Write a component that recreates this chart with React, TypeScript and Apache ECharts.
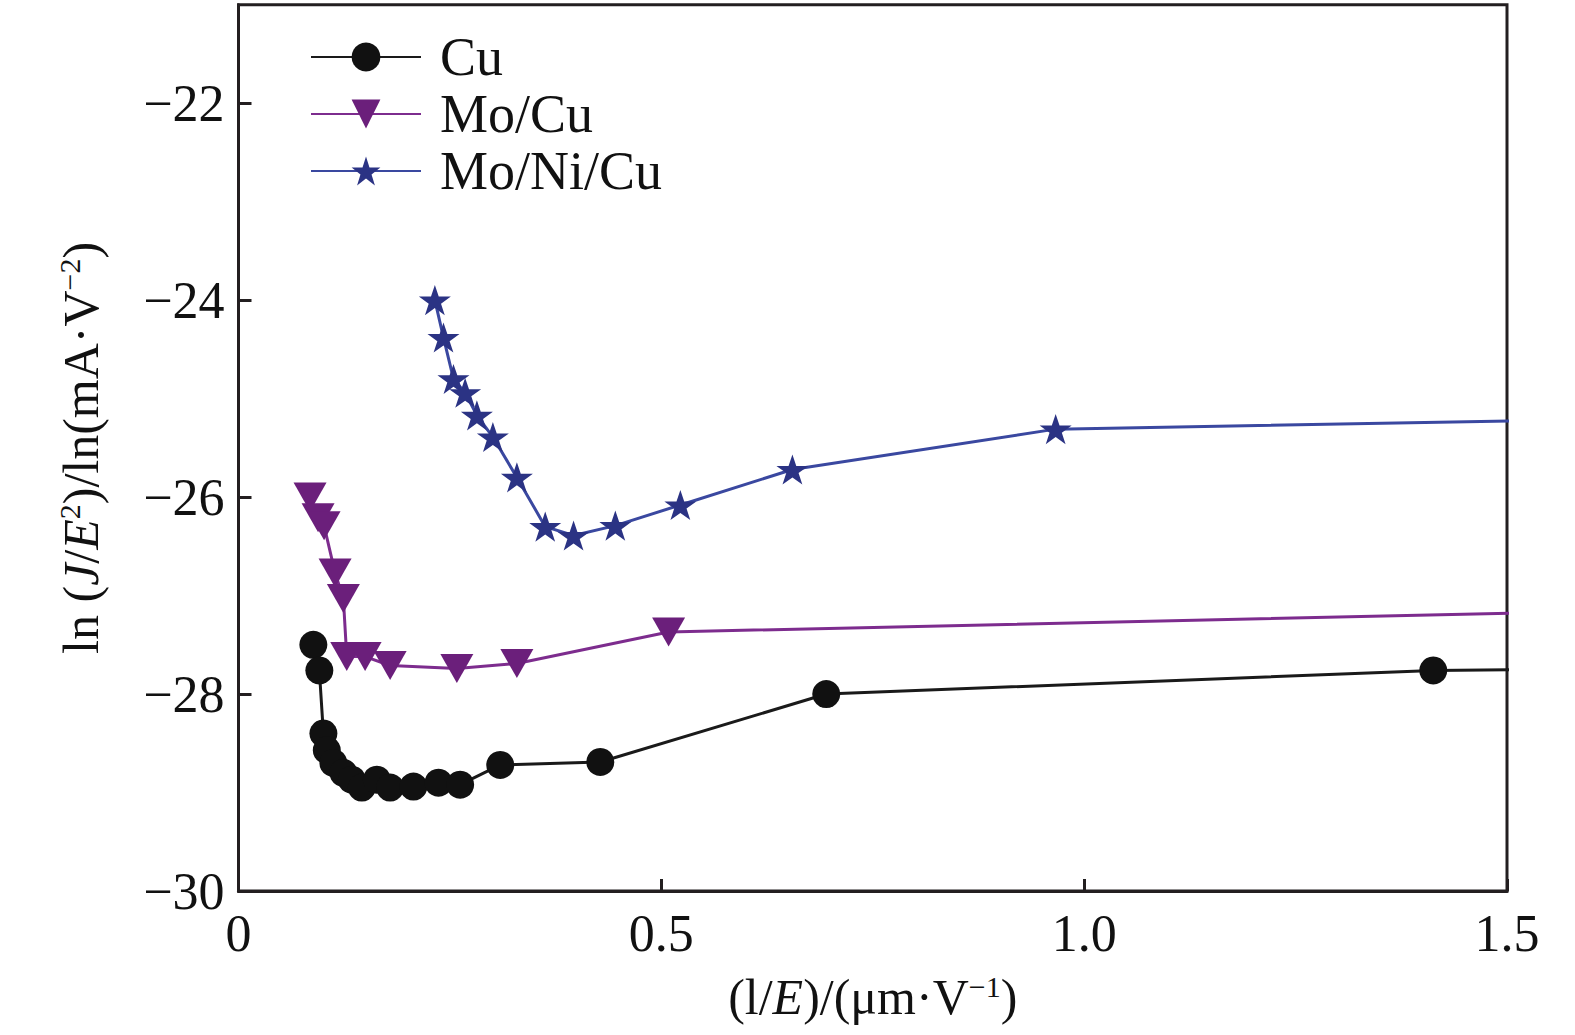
import React, { useEffect, useRef } from "react";
import * as echarts from "echarts";

// ---- data ----
const seriesNames = ["Cu", "Mo/Cu", "Mo/Ni/Cu"];

const cuX = [0.0885, 0.0956, 0.1004, 0.1044, 0.1122, 0.124, 0.134, 0.1458, 0.1636, 0.1793, 0.2069, 0.2365, 0.2621, 0.3095, 0.4278, 0.695, 1.4128, 1.55];
const cuY = [-27.5, -27.76, -28.4, -28.57, -28.7, -28.8, -28.87, -28.95, -28.87, -28.95, -28.94, -28.9, -28.92, -28.72, -28.69, -28.0, -27.76, -27.75];

const moCuX = [0.0846, 0.0941, 0.1012, 0.1142, 0.124, 0.128, 0.1497, 0.1793, 0.2582, 0.3292, 0.5086, 1.55];
const moCuY = [-26.0, -26.21, -26.29, -26.77, -27.03, -27.62, -27.62, -27.71, -27.74, -27.69, -27.37, -27.17];

const moNiCuX = [0.2322, 0.2424, 0.2542, 0.268, 0.2819, 0.3008, 0.3292, 0.3627, 0.3962, 0.4456, 0.5225, 0.655, 0.9663, 1.55];
const moNiCuY = [-24.0, -24.38, -24.8, -24.94, -25.17, -25.39, -25.8, -26.3, -26.39, -26.29, -26.08, -25.72, -25.31, -25.22];

const xTicks = [0, 0.5, 1.0, 1.5];
const yTicks = [-30, -28, -26, -24, -22];

const STAR =
  "path://M50,0 L61.8,35.1 L98.9,35.1 L68.8,56.9 L80.3,91.9 L50,70.2 L19.7,91.9 L31.2,56.9 L1.1,35.1 L38.2,35.1 Z";

const zip = (xs: number[], ys: number[]) => xs.map((x, i) => [x, ys[i]]);

const FONT = "'Liberation Serif', 'DejaVu Serif', serif";
const AXIS = "#231f20";

export default function App() {
  const ref = useRef<HTMLDivElement>(null);

  useEffect(() => {
    if (!ref.current) return;
    const chart = echarts.init(ref.current, undefined, { renderer: "svg" });
    const fmtY = (v: number) =>
      yTicks.includes(v) ? String(v).replace("-", "\u2212") : "";
    const fmtX = (v: number) => {
      if (!xTicks.some((t) => Math.abs(t - v) < 1e-9)) return "";
      return v === 0 ? "0" : v.toFixed(1);
    };
    chart.setOption({
      animation: false,
      backgroundColor: "#ffffff",
      textStyle: { fontFamily: FONT },
      grid: {
        left: 238.5,
        top: 4.7,
        right: 68,
        bottom: 144,
        show: true,
        borderColor: AXIS,
        borderWidth: 3,
        containLabel: false,
      },
      legend: {
        orient: "vertical",
        left: 305,
        top: 25,
        itemWidth: 110,
        itemHeight: 36,
        itemGap: 3,
        data: seriesNames,
        textStyle: {
          fontFamily: FONT,
          fontSize: 54,
          color: "#111",
          lineHeight: 54,
          padding: [0, 0, 0, 14],
        },
      },
      xAxis: {
        type: "value",
        min: 0,
        max: 1.5,
        interval: 0.5,
        name: "{n|(l/}{i|E}{n|)/(\u03bcm\u00b7V}{s|\u22121}{n|)}",
        nameLocation: "middle",
        nameGap: 80,
        nameTextStyle: {
          rich: {
            n: { fontFamily: FONT, fontSize: 50, color: "#111" },
            i: { fontFamily: FONT, fontSize: 50, fontStyle: "italic", color: "#111" },
            s: { fontFamily: FONT, fontSize: 30, color: "#111", verticalAlign: "top", padding: [0, 0, 22, 0] },
          },
        },
        splitLine: { show: false },
        axisLine: { show: true, lineStyle: { color: AXIS, width: 3 } },
        axisTick: { show: true, inside: true, length: 12, lineStyle: { color: AXIS, width: 3 } },
        axisLabel: {
          margin: 16,
          fontFamily: FONT,
          fontSize: 52,
          color: "#111",
          formatter: fmtX,
        },
      },
      yAxis: {
        type: "value",
        min: -30,
        max: -21,
        interval: 2,
        name: "{n|ln (}{i|J}{n|/}{i|E}{s|2}{n|)/ln(mA\u00b7V}{s|\u22122}{n|)}",
        nameLocation: "middle",
        nameRotate: 90,
        nameGap: 132,
        nameTextStyle: {
          rich: {
            n: { fontFamily: FONT, fontSize: 50, color: "#111" },
            i: { fontFamily: FONT, fontSize: 50, fontStyle: "italic", color: "#111" },
            s: { fontFamily: FONT, fontSize: 30, color: "#111", verticalAlign: "top", padding: [0, 0, 22, 0] },
          },
        },
        splitLine: { show: false },
        axisLine: { show: true, lineStyle: { color: AXIS, width: 3 } },
        axisTick: { show: true, inside: true, length: 13, lineStyle: { color: AXIS, width: 3 } },
        axisLabel: {
          margin: 14,
          fontFamily: FONT,
          fontSize: 52,
          color: "#111",
          showMaxLabel: false,
          formatter: fmtY,
        },
      },
      series: [
        {
          name: seriesNames[0],
          type: "line",
          data: zip(cuX, cuY),
          clip: true,
          symbol: "circle",
          symbolSize: 28,
          itemStyle: { color: "#111111" },
          lineStyle: { color: "#1a1a1a", width: 3 },
          z: 3,
        },
        {
          name: seriesNames[1],
          type: "line",
          data: zip(moCuX, moCuY),
          clip: true,
          symbol: "triangle",
          symbolRotate: 180,
          symbolSize: [33, 29],
          itemStyle: { color: "#6b1f7b" },
          lineStyle: { color: "#7d2c8e", width: 3 },
          z: 2,
        },
        {
          name: seriesNames[2],
          type: "line",
          data: zip(moNiCuX, moNiCuY),
          clip: true,
          symbol: STAR,
          symbolSize: 32,
          symbolKeepAspect: true,
          itemStyle: { color: "#2b3384" },
          lineStyle: { color: "#3a48a0", width: 3 },
          z: 1,
        },
      ],
    });
    return () => chart.dispose();
  }, []);

  return (
    <div
      ref={ref}
      style={{ position: "absolute", left: 0, top: 0, width: 1575, height: 1035 }}
    />
  );
}
